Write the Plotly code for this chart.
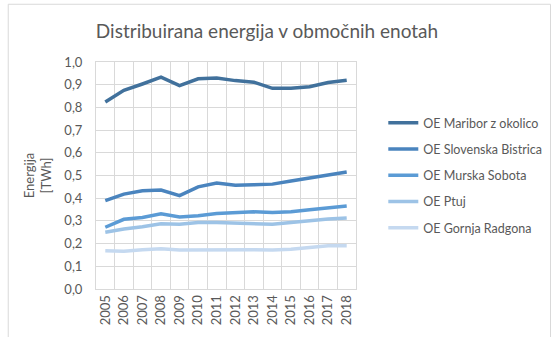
import plotly.graph_objects as go

years = ["2005", "2006", "2007", "2008", "2009", "2010", "2011",
         "2012", "2013", "2014", "2015", "2016", "2017", "2018"]

maribor = [0.824, 0.875, 0.903, 0.933, 0.896, 0.926, 0.929,
           0.918, 0.911, 0.884, 0.884, 0.891, 0.910, 0.920]
slovenska_bistrica = [0.389, 0.418, 0.433, 0.436, 0.411, 0.450, 0.467,
                      0.457, 0.459, 0.462, 0.476, 0.489, 0.502, 0.515]
murska_sobota = [0.272, 0.307, 0.315, 0.331, 0.317, 0.323, 0.333,
                 0.336, 0.340, 0.337, 0.340, 0.349, 0.356, 0.366]
ptuj = [0.250, 0.264, 0.274, 0.287, 0.285, 0.293, 0.293,
        0.290, 0.290, 0.285, 0.293, 0.301, 0.308, 0.313]
gornja_radgona = [0.168, 0.166, 0.173, 0.177, 0.172, 0.173, 0.173,
                  0.173, 0.173, 0.172, 0.175, 0.183, 0.190, 0.191]

series = [
    ("OE Maribor z okolico", maribor, "#41719C"),
    ("OE Slovenska Bistrica", slovenska_bistrica, "#4A84BE"),
    ("OE Murska Sobota", murska_sobota, "#5B9BD5"),
    ("OE Ptuj", ptuj, "#9DC3E6"),
    ("OE Gornja Radgona", gornja_radgona, "#C5D9F0"),
]

text_color = "#595959"
grid_color = "#D9D9D9"
font_family = "Lato, 'Open Sans', sans-serif"

fig = go.Figure()
for name, values, color in series:
    fig.add_trace(go.Scatter(
        x=years, y=values, name=name, mode="lines", legendgroup=name,
        line=dict(color=color, width=3.5),
    ))

fig.update_layout(
    width=559, height=337,
    margin=dict(l=96, r=189, t=62, b=45),
    paper_bgcolor="white", plot_bgcolor="white",
    font=dict(family=font_family, color=text_color, size=13),
    separators=",.",
    title=dict(
        text="Distribuirana energija v območnih enotah",
        x=267 / 559, xanchor="center", y=1 - 31 / 337, yanchor="middle",
        font=dict(size=19, color=text_color, family=font_family),
    ),
    legend=dict(
        x=1.105, xanchor="left", y=0.5, yanchor="middle",
        font=dict(size=12.5, color=text_color),
        tracegroupgap=7, itemwidth=30,
        bgcolor="rgba(0,0,0,0)",
    ),
    showlegend=True,
)

fig.update_xaxes(
    type="category", tickson="boundaries",
    showgrid=True, gridcolor=grid_color, gridwidth=1,
    showline=True, linecolor=grid_color, mirror=True,
    ticks="", tickangle=-90, tickfont=dict(size=13, color=text_color),
    range=[-0.5, 13.5],
)
fig.update_yaxes(
    range=[0, 1.0], dtick=0.1, tickformat=".1f",
    showgrid=True, gridcolor=grid_color, gridwidth=1,
    zeroline=False, showline=True, linecolor=grid_color, mirror=True,
    ticks="", ticklabelstandoff=10, tickfont=dict(size=13, color=text_color),
    title=dict(text="Energija<br>[TWh]", font=dict(size=13, color=text_color), standoff=9),
)

# outer chart frame (right and bottom edges run off the page)
fig.add_shape(
    type="rect", xref="paper", yref="paper",
    x0=(3.5 - 96) / 274, x1=(575 - 96) / 274,
    y0=(292 - 355) / 230, y1=(292 - 3.5) / 230,
    line=dict(color="#D9D9D9", width=1), fillcolor="rgba(0,0,0,0)",
    layer="below",
)

fig.write_html("out.html")
